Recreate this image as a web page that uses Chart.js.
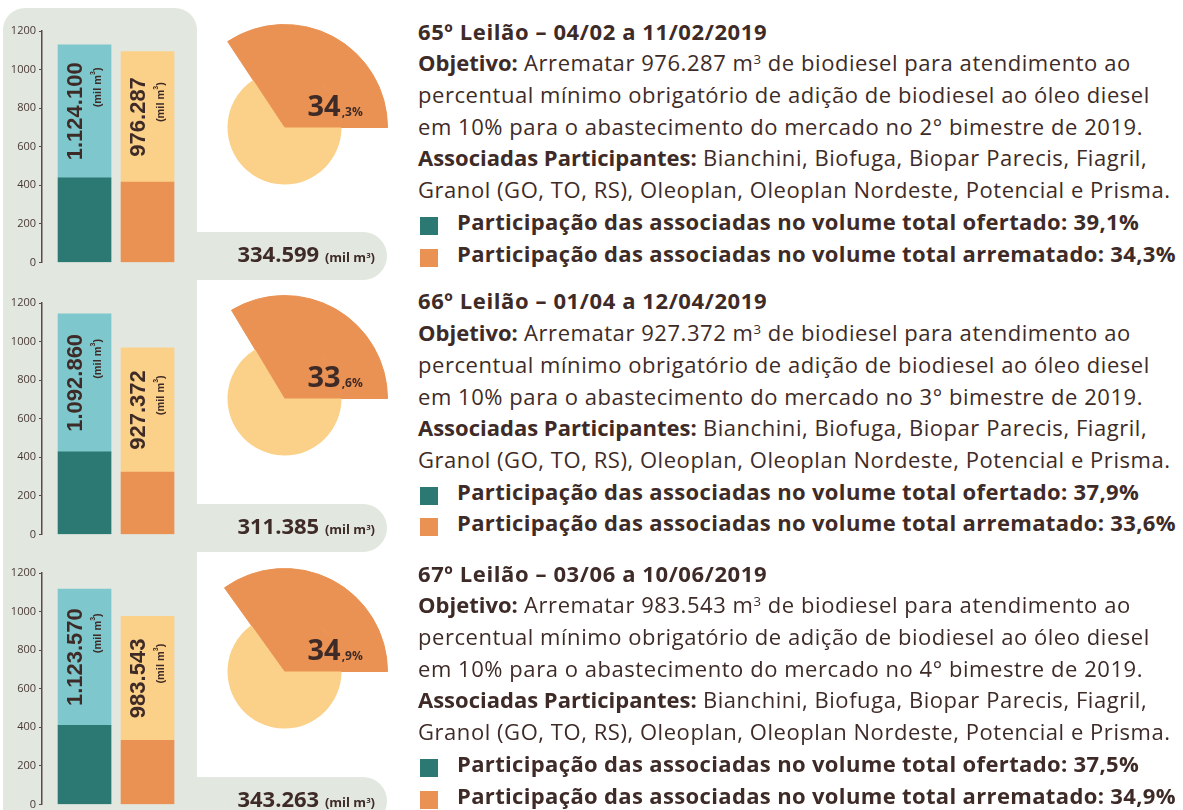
<!DOCTYPE html>
<html lang="pt-BR">
<head>
<meta charset="utf-8">
<title>Leilões de biodiesel 2019</title>
<script src="https://cdn.jsdelivr.net/npm/chart.js@4.4.1/dist/chart.umd.min.js"></script>
<style>
  html, body { margin: 0; padding: 0; }
  body {
    width: 1183px; height: 810px; position: relative; overflow: hidden;
    background: #fff; color: #3e2b27;
    font-family: "Open Sans", "Noto Sans", sans-serif;
  }
  .column {
    position: absolute; left: 3px; top: 8px; width: 194px; height: 840px;
    background: #e2e7df; border-radius: 22px 22px 0 0;
  }
  .tab {
    position: absolute; left: 190px; width: 197px; height: 48px;
    background: #e2e7df; border-radius: 0 24px 24px 0;
    box-sizing: border-box; padding-right: 12px; text-align: right;
    line-height: 42px; font-weight: 700; font-size: 22px; white-space: nowrap;
  }
  .tab small { font-size: 13px; }
  .tab sup, .info sup { font-size: 0.6em; line-height: 0; vertical-align: 0.55em; }
  canvas { position: absolute; }
  .info {
    position: absolute; left: 418px; font-size: 22px; line-height: 31.7px;
    white-space: nowrap; letter-spacing: 0.55px;
  }
  .info b { font-weight: 700; letter-spacing: 0; }
  .info .title { font-weight: 700; letter-spacing: 0.6px; }
  .info .leg { position: relative; padding-left: 39px; font-weight: 700; letter-spacing: 0.35px; }
  .info .leg::before {
    content: ""; position: absolute; left: 2px; top: 11px; width: 18px; height: 18px;
  }
  .info .leg.of::before { background: #2c7873; }
  .info .leg.ar::before { background: #ea9253; }
</style>
</head>
<body>
<div class="column"></div>

<script>
// Bar heights as drawn (mil m³)
const offeredTotal = [1128, 1144, 1117];
const offeredAssoc = [439, 428, 410];
const awardedTotal = [1093, 967, 975];
const awardedAssoc = [416, 323, 332];

// Labels printed on the figure
const offeredLabels = ['1.124.100', '1.092.860', '1.123.570'];
const awardedLabels = ['976.287', '927.372', '983.543'];
const awardedAssocLabels = ['334.599', '311.385', '343.263'];
const shareOffered = ['39,1%', '37,9%', '37,5%'];
const shareAwarded = [34.3, 33.6, 34.9];

const auctions = ['65º Leilão – 04/02 a 11/02/2019', '66º Leilão – 01/04 a 12/04/2019', '67º Leilão – 03/06 a 10/06/2019'];
const bimesters = ['2°', '3°', '4°'];
const yTicks = [0, 200, 400, 600, 800, 1000, 1200];

const TEAL_DARK = '#2c7873';
const TEAL_LIGHT = '#7ec8cd';
const ORANGE = '#ea9253';
const YELLOW = '#fbd089';
const TEXT = '#3e2b27';
const AXIS = '#5b4a45';

// row offsets
const barTops = [0, 272, 542];
const pieCenters = [127, 398, 671];
const infoTops = [15.6, 285.4, 557.6];
const tabTops = [232, 504, 777];

const fmtPct = v => v.toFixed(1).replace('.', ',');

// rotated numbers inside the light part of each bar
const barLabels = {
    id: 'barLabels',
    afterDatasetsDraw(chart, args, opts) {
        const ctx = chart.ctx;
        const meta = chart.getDatasetMeta(1);
        meta.data.forEach((bar, i) => {
            const cy = (bar.y + bar.base) / 2;
            ctx.save();
            ctx.translate(bar.x, cy);
            ctx.rotate(-Math.PI / 2);
            ctx.fillStyle = TEXT;
            ctx.textBaseline = 'middle';
            ctx.textAlign = 'center';
            ctx.font = 'bold 22px "Liberation Sans", Arial, sans-serif';
            const main = opts.labels[i];
            const w = ctx.measureText(main).width;
            ctx.fillText(main, 0, -9);

            // "(mil m³)" aligned to the end of the number
            ctx.textAlign = 'left';
            ctx.font = 'bold 11px "Liberation Sans", Arial, sans-serif';
            const a = '(mil m', c = ')';
            const wa = ctx.measureText(a).width, wc = ctx.measureText(c).width;
            ctx.font = 'bold 7px "Liberation Sans", Arial, sans-serif';
            const wb = ctx.measureText('3').width;
            let x = w / 2 - 5 - (wa + wb + wc);
            ctx.font = 'bold 11px "Liberation Sans", Arial, sans-serif';
            ctx.fillText(a, x, 13);
            x += wa;
            ctx.font = 'bold 7px "Liberation Sans", Arial, sans-serif';
            ctx.fillText('3', x, 9);
            x += wb;
            ctx.font = 'bold 11px "Liberation Sans", Arial, sans-serif';
            ctx.fillText(c, x, 13);
            ctx.restore();
        });
    }
};

// "34,3%" style label on the pulled-out slice
const pieLabel = {
    id: 'pieLabel',
    afterDatasetsDraw(chart, args, opts) {
        const arc = chart.getDatasetMeta(1).data[0];
        const ctx = chart.ctx;
        const parts = fmtPct(opts.value).split(',');
        ctx.save();
        ctx.fillStyle = TEXT;
        ctx.textBaseline = 'alphabetic';
        ctx.textAlign = 'left';
        ctx.font = 'bold 29px "Open Sans", sans-serif';
        const x0 = arc.x + 23, y0 = arc.y - 12;
        ctx.fillText(parts[0], x0, y0);
        const w = ctx.measureText(parts[0]).width;
        ctx.font = 'bold 12px "Open Sans", sans-serif';
        ctx.fillText(',' + parts[1] + '%', x0 + w + 1, y0);
        ctx.restore();
    }
};

function makeRow(i) {
    // bar chart
    const bc = document.createElement('canvas');
    bc.width = 200; bc.height = 272;
    bc.style.left = '0px';
    bc.style.top = barTops[i] + 'px';
    document.body.appendChild(bc);

    new Chart(bc, {
        type: 'bar',
        data: {
            datasets: [
                {
                    label: 'Associadas',
                    data: [{ x: 1, y: offeredAssoc[i] }, { x: 2, y: awardedAssoc[i] }],
                    backgroundColor: [TEAL_DARK, ORANGE]
                },
                {
                    label: 'Total',
                    data: [{ x: 1, y: offeredTotal[i] - offeredAssoc[i] }, { x: 2, y: awardedTotal[i] - awardedAssoc[i] }],
                    backgroundColor: [TEAL_LIGHT, YELLOW]
                }
            ]
        },
        options: {
            responsive: false,
            animation: false,
            events: [],
            barThickness: 53,
            borderWidth: 0,
            layout: { padding: { top: 31, bottom: 9, left: 0, right: 0 } },
            plugins: {
                legend: { display: false },
                tooltip: { enabled: false },
                barLabels: { labels: [offeredLabels[i], awardedLabels[i]] }
            },
            scales: {
                x: {
                    type: 'linear', stacked: true, display: false, offset: false,
                    grid: { offset: false },
                    min: 0.325, max: 2.833
                },
                y: {
                    stacked: true,
                    min: 0, max: 1200,
                    afterBuildTicks: s => { s.ticks = yTicks.map(v => ({ value: v })); },
                    afterFit: s => { s.width = 42; },
                    border: { display: true, color: AXIS, width: 1.5 },
                    grid: { display: true, drawOnChartArea: false, drawTicks: true, tickLength: 3, color: AXIS, lineWidth: 1 },
                    ticks: {
                        color: '#4a3a35', padding: 3,
                        font: { family: '"Open Sans", sans-serif', size: 11 },
                        callback: v => String(v)
                    }
                }
            }
        },
        plugins: [barLabels]
    });

    // pie with the associates' slice pulled out
    const pc = document.createElement('canvas');
    pc.width = 207; pc.height = 207;
    pc.style.left = (284 - 103.5) + 'px';
    pc.style.top = (pieCenters[i] - 103.5) + 'px';
    document.body.appendChild(pc);

    const share = shareAwarded[i];
    new Chart(pc, {
        type: 'pie',
        data: {
            labels: ['Associadas', 'Demais'],
            datasets: [
                {
                    data: [share, 100 - share],
                    backgroundColor: [ORANGE, 'rgba(0,0,0,0)'],
                    borderColor: [ORANGE, 'rgba(0,0,0,0)'],
                    borderWidth: [1, 0],
                    weight: 46
                },
                {
                    data: [share, 100 - share],
                    backgroundColor: [ORANGE, YELLOW],
                    borderColor: [ORANGE, YELLOW],
                    borderWidth: [1, 0],
                    weight: 57
                }
            ]
        },
        options: {
            responsive: false,
            animation: false,
            events: [],
            rotation: 90 - share * 3.6,
            hoverOffset: 0,
            layout: { padding: 0 },
            plugins: {
                legend: { display: false },
                tooltip: { enabled: false },
                pieLabel: { value: share }
            }
        },
        plugins: [pieLabel]
    });

    // tab with associates' awarded volume
    const tab = document.createElement('div');
    tab.className = 'tab';
    tab.style.top = tabTops[i] + 'px';
    tab.innerHTML = awardedAssocLabels[i] + ' <small>(mil m<sup>3</sup>)</small>';
    document.body.appendChild(tab);

    // text block
    const info = document.createElement('div');
    info.className = 'info';
    info.style.top = infoTops[i] + 'px';
    info.innerHTML =
        '<div class="title">' + auctions[i] + '</div>' +
        '<div><b>Objetivo:</b> Arrematar ' + awardedLabels[i] + ' m<sup>3</sup> de biodiesel para atendimento ao</div>' +
        '<div>percentual mínimo obrigatório de adição de biodiesel ao óleo diesel</div>' +
        '<div>em 10% para o abastecimento do mercado no ' + bimesters[i] + ' bimestre de 2019.</div>' +
        '<div><b>Associadas Participantes:</b> Bianchini, Biofuga, Biopar Parecis, Fiagril,</div>' +
        '<div>Granol (GO, TO, RS), Oleoplan, Oleoplan Nordeste, Potencial e Prisma.</div>' +
        '<div class="leg of">Participação das associadas no volume total ofertado: ' + shareOffered[i] + '</div>' +
        '<div class="leg ar">Participação das associadas no volume total arrematado: ' + fmtPct(shareAwarded[i]) + '%</div>';
    document.body.appendChild(info);
}

document.addEventListener('DOMContentLoaded', () => {
    [0, 1, 2].forEach(makeRow);
});
</script>
</body>
</html>
